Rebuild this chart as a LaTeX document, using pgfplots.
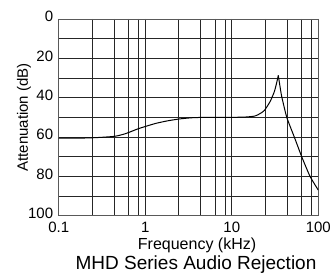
\documentclass[border=0pt]{standalone}
\usepackage{fontspec}
\setmainfont{Liberation Sans}
\usepackage{pgfplots}
\pgfplotsset{compat=1.18}
\begin{document}
\begin{tikzpicture}
\begin{axis}[
  scale only axis, width=259.6pt, height=196.7pt,
  at={(0,0)}, anchor=south west,
  xmode=log, xmin=0.1, xmax=100,
  ymin=0, ymax=100, y dir=reverse,
  xtick={0.1,1,10,100}, xticklabels={0.1,1,10,100},
  minor xtick={0.243,0.436,0.644,0.833,2.43,4.36,6.44,8.33,24.3,43.6,64.4,83.3},
  ytick={0,20,40,60,80,100}, minor ytick={10,30,50,70,90},
  grid=both,
  major grid style={black!85, line width=0.7pt},
  minor grid style={black!85, line width=0.7pt},
  axis line style={black!65, line width=0.8pt},
  major tick length=0pt, minor tick length=0pt,
  /pgf/number format/assume math mode=true,
  tick label style={font=\fontsize{15}{18}\selectfont},
  xticklabel style={anchor=north, inner sep=0pt, yshift=-6.6pt},
  yticklabel style={anchor=east, inner sep=0pt, xshift=-5.4pt, yshift=2.5pt},
  xlabel={Frequency (kHz)},
  xlabel style={font=\fontsize{16}{19}\selectfont, at={(axis description cs:0.533,-0.1693)}, anchor=base},
  ylabel={Attenuation (dB)},
  ylabel style={font=\fontsize{15}{18}\selectfont, at={(axis description cs:-0.1183,0.5)}, anchor=base},
  title={MHD Series Audio Rejection},
  title style={font=\fontsize{19}{22}\selectfont, at={(axis description cs:0.529,-0.3015)}, anchor=base},
]
\addplot[black, line width=1pt, smooth, tension=0.4] coordinates {
  (0.1,60.5) (0.2,60.5) (0.3,60.2) (0.45,59.6) (0.6,58.2) (0.83,55.8)
  (1.29,53.2) (1.8,51.8) (2.5,50.8) (3.5,50.2) (5,50) (10,50) (15,49.8)
  (18.6,49.3) (21,48.2) (23.8,46.5) (27.7,42) (31,37) (33,32.5) (34.5,28.7)
};
\addplot[black, line width=1pt, smooth, tension=0.3] coordinates {
  (34.5,28.7) (36,34) (37.8,39.5) (43.2,50) (52.8,60) (64.3,70) (80.2,80) (100,87)
};
\end{axis}
\path (-58.7pt,-64.3pt) rectangle (277.3pt,215.7pt);
\end{tikzpicture}
\end{document}
